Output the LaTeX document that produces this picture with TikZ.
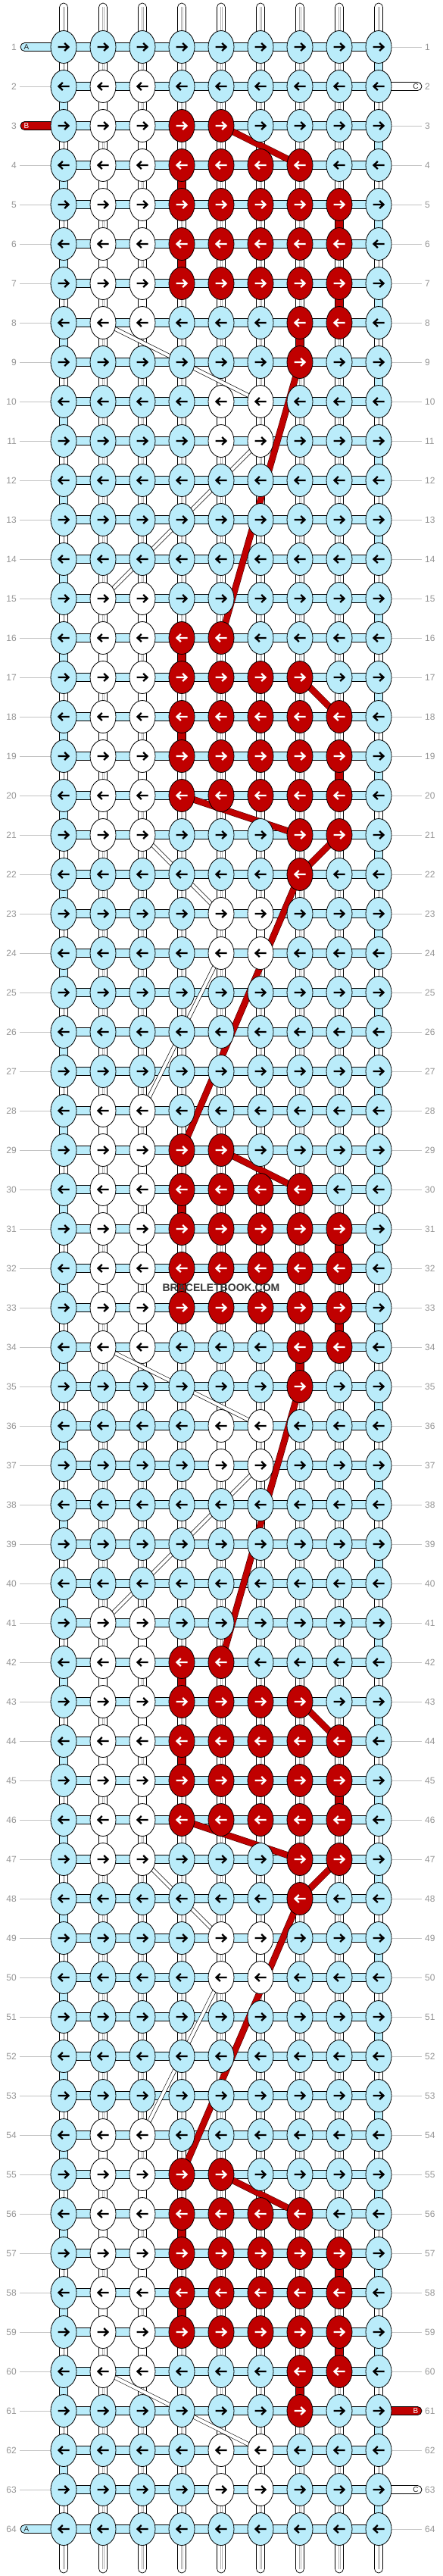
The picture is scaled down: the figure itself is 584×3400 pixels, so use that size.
\documentclass[tikz,border=0pt]{standalone}
\usepackage{fontspec}
\setmainfont{Liberation Sans}
\usetikzlibrary{shapes.geometric,calc}
\definecolor{lb}{RGB}{186,236,250}
\definecolor{rd}{RGB}{192,0,0}
\definecolor{numgray}{RGB}{150,150,150}
\definecolor{linegray}{RGB}{195,195,195}
\definecolor{strandgray}{RGB}{175,175,175}
\definecolor{wmcol}{RGB}{55,55,55}
\pgfdeclarelayer{lyBG}\pgfdeclarelayer{lyA}\pgfdeclarelayer{lyB}\pgfdeclarelayer{lyC}\pgfdeclarelayer{lyTop}
\pgfsetlayers{lyBG,lyA,lyB,lyC,main,lyTop}
\tikzset{
  knot/.style={ellipse,draw=black,line width=0.8pt,minimum width=34pt,minimum height=43pt,inner sep=0pt},
  hbar/.style={fill=lb,draw=black,line width=0.8pt},
  vcon/.style={fill=white,draw=black,line width=0.7pt},
  strand/.style={draw=strandgray,line width=0.4pt},
  gline/.style={draw=linegray,line width=1pt},
  tailbox/.style={draw=black,line width=0.8pt,rounded corners=5.5pt},
  taillab/.style={inner sep=0pt,font=\fontsize{10}{10}\selectfont},
  lnum/.style={anchor=east,inner sep=0pt,text=numgray,font=\fontsize{12}{12}\selectfont},
  rnum/.style={anchor=west,inner sep=0pt,text=numgray,font=\fontsize{12}{12}\selectfont},
  redline/.style={draw=black!60!rd,line width=0.6pt,double=rd,double distance=7.5pt},
  whiteline/.style={draw=black,line width=0.6pt,double=white,double distance=4.2pt},
  arrowline/.style={line width=2.3pt,line cap=butt,line join=miter},
  rarrow/.pic={\draw[arrowline] (-7.5,0) -- (6,0) (1.2,-5) -- (6.5,0) -- (1.2,5);},
  larrow/.pic={\draw[arrowline] (7.5,0) -- (-6,0) (-1.2,-5) -- (-6.5,0) -- (-1.2,5);},
  wmark/.style={inner sep=0pt,text=wmcol,font=\fontsize{14}{14}\selectfont\bfseries}
}
\begin{document}
\begin{tikzpicture}[x=1pt,y=-1pt]
\useasboundingbox (0,0) rectangle (584,3400);
\begin{pgfonlayer}{lyBG}\fill[white] (0,0) rectangle (584,3400);\end{pgfonlayer}
\def\pat{{0,1,1,0,0,0,0,0,0,
0,1,1,2,2,0,0,0,0,
0,1,1,2,2,2,2,0,0,
0,1,1,2,2,2,2,2,0,
0,1,1,2,2,2,2,2,0,
0,1,1,2,2,2,2,2,0,
0,1,1,0,0,0,2,2,0,
0,0,0,0,0,0,2,0,0,
0,0,0,0,1,1,0,0,0,
0,0,0,0,1,1,0,0,0,
0,0,0,0,0,0,0,0,0,
0,0,0,0,0,0,0,0,0,
0,0,0,0,0,0,0,0,0}}
% knots
\foreach \rw in {1,...,64}{
  \foreach \cl in {1,...,9}{
    \pgfmathtruncatemacro\pidx{mod(\rw+11,13)*9+\cl-1}
    \pgfmathtruncatemacro\kcode{\pat[\pidx]}
    \ifcase\kcode \def\kf{lb}\def\ac{black}\or \def\kf{white}\def\ac{black}\or \def\kf{rd}\def\ac{white}\fi
    \node[knot,fill=\kf] (k-\rw-\cl) at ({84+52*(\cl-1)},{62+52*(\rw-1)}) {};
    \ifodd\rw \pic[color=\ac] at (k-\rw-\cl) {rarrow};\else \pic[color=\ac] at (k-\rw-\cl) {larrow};\fi
  }
}
\begin{pgfonlayer}{lyA}
% top and bottom strands
\foreach \cl in {1,...,9}{
  \draw[vcon,rounded corners=5.5pt] ($(k-1-\cl.center)+(-5.5,-58)$) rectangle ($(k-1-\cl.center)+(5.5,0)$);
  \draw[strand] ($(k-1-\cl.center)+(-1.3,-53)$) -- ($(k-1-\cl.center)+(-1.3,0)$) ($(k-1-\cl.center)+(1.3,-53)$) -- ($(k-1-\cl.center)+(1.3,0)$);
  \draw[vcon,rounded corners=5.5pt] ($(k-64-\cl.center)+(-5.5,0)$) rectangle ($(k-64-\cl.center)+(5.5,58)$);
  \draw[strand] ($(k-64-\cl.center)+(-1.3,0)$) -- ($(k-64-\cl.center)+(-1.3,53)$) ($(k-64-\cl.center)+(1.3,0)$) -- ($(k-64-\cl.center)+(1.3,53)$);
}
% vertical connectors
\foreach \rw in {1,...,63}{
  \pgfmathtruncatemacro\rn{\rw+1}
  \foreach \cl in {1,...,9}{
    \draw[vcon] ($(k-\rw-\cl.center)+(-5.5,0)$) rectangle ($(k-\rn-\cl.center)+(5.5,0)$);
    \draw[strand] ($(k-\rw-\cl.center)+(-1.3,0)$) -- ($(k-\rn-\cl.center)+(-1.3,0)$) ($(k-\rw-\cl.center)+(1.3,0)$) -- ($(k-\rn-\cl.center)+(1.3,0)$);
  }
  \ifodd\rw \def\lc{9}\else \def\lc{1}\fi
  \draw[vcon,fill=lb] ($(k-\rw-\lc.center)+(-5.5,0)$) rectangle ($(k-\rn-\lc.center)+(5.5,0)$);
}
\foreach \rw/\cl in {2/2,3/3,4/2,5/3,6/2,7/3,15/3,16/2,17/3,18/2,19/3,20/2,28/2,29/3,30/2,31/3,32/2,33/3,41/3,42/2,43/3,44/2,45/3,46/2,54/2,55/3,56/2,57/3,58/2,59/3,10/5,23/6,36/5,49/6,62/5}{
  \pgfmathtruncatemacro\rn{\rw+1}
  \draw[vcon,fill=white] ($(k-\rw-\cl.center)+(-5.5,0)$) rectangle ($(k-\rn-\cl.center)+(5.5,0)$);
}
\foreach \rw/\cl in {4/4,5/8,6/4,7/8,8/7,16/4,18/4,19/8,30/4,31/8,32/4,33/8,34/7,42/4,44/4,45/8,56/4,57/8,58/4,59/8,60/7}{
  \pgfmathtruncatemacro\rn{\rw+1}
  \draw[vcon,fill=rd] ($(k-\rw-\cl.center)+(-5.5,0)$) rectangle ($(k-\rn-\cl.center)+(5.5,0)$);
}
% numbers, guide lines, tails
\foreach \rw in {1,...,64}{
  \pgfmathsetmacro\yy{62+52*(\rw-1)}
  \node[lnum] (ln-\rw) at (22,\yy) {\rw};
  \node[rnum] (rn-\rw) at (561,\yy) {\rw};
  \ifnum\rw=1
    \draw[tailbox,fill=lb] (27,{\yy-5.5}) rectangle ($(k-\rw-1.center)+(0,5.5)$);
    \node[taillab,text=black!85] (tl-\rw) at (35,\yy) {A};
  \else\ifnum\rw=64
    \draw[tailbox,fill=lb] (27,{\yy-5.5}) rectangle ($(k-\rw-1.center)+(0,5.5)$);
    \node[taillab,text=black!85] (tl-\rw) at (35,\yy) {A};
  \else\ifnum\rw=3
    \draw[tailbox,fill=rd] (27,{\yy-5.5}) rectangle ($(k-\rw-1.center)+(0,5.5)$);
    \node[taillab,text=white] (tl-\rw) at (35,\yy) {B};
  \else
    \coordinate (lg-\rw) at (26,\yy);
    \draw[gline] (lg-\rw) -- (k-\rw-1.west);
  \fi\fi\fi
  \ifnum\rw=2
    \draw[tailbox,fill=white] ($(k-\rw-9.center)+(0,-5.5)$) rectangle (557,{\yy+5.5});
    \node[taillab,text=black!85] (tr-\rw) at (549,\yy) {C};
  \else\ifnum\rw=63
    \draw[tailbox,fill=white] ($(k-\rw-9.center)+(0,-5.5)$) rectangle (557,{\yy+5.5});
    \node[taillab,text=black!85] (tr-\rw) at (549,\yy) {C};
  \else\ifnum\rw=61
    \draw[tailbox,fill=rd] ($(k-\rw-9.center)+(0,-5.5)$) rectangle (557,{\yy+5.5});
    \node[taillab,text=white] (tr-\rw) at (549,\yy) {B};
  \else
    \coordinate (rg-\rw) at (557,\yy);
    \draw[gline] (k-\rw-9.east) -- (rg-\rw);
  \fi\fi\fi
}
\end{pgfonlayer}
\begin{pgfonlayer}{lyB}
\foreach \rw in {1,...,64}{
  \draw[hbar] ($(k-\rw-1.center)+(0,-5.5)$) rectangle ($(k-\rw-9.center)+(0,5.5)$);
}
\end{pgfonlayer}
\begin{pgfonlayer}{lyC}
\foreach \rA/\cA/\rB/\cB in {8/2/10/6,11/6/15/2,21/3/23/5,24/5/28/3,34/2/36/6,37/6/41/2,47/3/49/5,50/5/54/3,60/2/62/6}{
  \draw[whiteline] (k-\rA-\cA.center) -- (k-\rB-\cB.center);
}
\foreach \rA/\cA/\rB/\cB in {3/5/4/7,9/7/16/5,17/7/18/8,20/4/21/7,21/8/22/7,22/7/29/4,29/5/30/7,35/7/42/5,43/7/44/8,46/4/47/7,47/8/48/7,48/7/55/4,55/5/56/7}{
  \draw[redline] (k-\rA-\cA.center) -- (k-\rB-\cB.center);
}
\end{pgfonlayer}
\begin{pgfonlayer}{lyTop}
\node[wmark] (wm) at (292,1700) {BRACELETBOOK.COM};
\end{pgfonlayer}
\end{tikzpicture}
\end{document}
